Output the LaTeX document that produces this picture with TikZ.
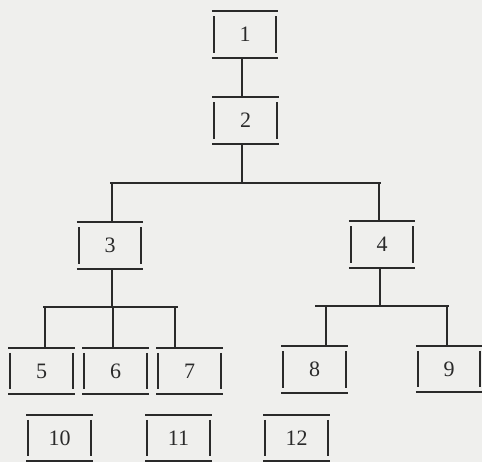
\documentclass[tikz,border=0pt]{standalone}
\usepackage{fontspec}
\setmainfont{Liberation Serif}
\definecolor{bg}{HTML}{EFEFED}
\definecolor{ink}{HTML}{2A2A2A}
\tikzset{
  tb/.style={minimum width=66pt, minimum height=46pt, inner sep=0pt, text=ink,
    font=\fontsize{22}{22}\selectfont},
  ln/.style={draw=ink, line width=1.7pt},
}
\newcommand\tbx[4]{%
  \node[tb] (#1) at (#2,#3) {#4};
  \draw[ln] (#1.north west) -- (#1.north east)
            (#1.south west) -- (#1.south east)
            ([shift={(2,5)}]#1.north west) -- ([shift={(2,-5)}]#1.south west)
            ([shift={(-2,5)}]#1.north east) -- ([shift={(-2,-5)}]#1.south east);
}
\begin{document}
\begin{tikzpicture}[x=1pt,y=-1pt]
\fill[bg] (0,0) rectangle (482,462);
\useasboundingbox (0,0) rectangle (482,462);
\tbx{n1}{245}{34.5}{1}
\tbx{n2}{245.5}{120.5}{2}
\tbx{n3}{110}{245.5}{3}
\tbx{n4}{382}{244.5}{4}
\tbx{n5}{41.5}{371}{5}
\tbx{n6}{115.5}{371}{6}
\tbx{n7}{189.5}{371}{7}
\tbx{n8}{314.5}{369.5}{8}
\tbx{n9}{449}{369}{9}
\tbx{n10}{59.5}{438}{10}
\tbx{n11}{178.5}{438}{11}
\tbx{n12}{296.5}{438}{12}
% bus coordinates
\coordinate (j2) at (242,183);
\coordinate (busAL) at (110,183);
\coordinate (busAR) at (381,183);
\coordinate (j3) at (112,307);
\coordinate (busBL) at (43,307);
\coordinate (busBR) at (178,307);
\coordinate (j4) at (380,306);
\coordinate (busCL) at (315,306);
\coordinate (busCR) at (449,306);
% connectors
\draw[ln] (n1.south -| j2) -- (n2.north -| j2);
\draw[ln] (n2.south -| j2) -- (j2);
\draw[ln] (busAL) -- (busAR);
\draw[ln] (j2 -| 112,0) -- (n3.north -| 112,0);
\draw[ln] (j2 -| 379,0) -- (n4.north -| 379,0);
\draw[ln] (n3.south -| j3) -- (j3);
\draw[ln] (busBL) -- (busBR);
\draw[ln] (j3 -| 45,0) -- (n5.north -| 45,0);
\draw[ln] (j3 -| 113,0) -- (n6.north -| 113,0);
\draw[ln] (j3 -| 175,0) -- (n7.north -| 175,0);
\draw[ln] (n4.south -| j4) -- (j4);
\draw[ln] (busCL) -- (busCR);
\draw[ln] (j4 -| 326,0) -- (n8.north -| 326,0);
\draw[ln] (j4 -| 447,0) -- (n9.north -| 447,0);
\end{tikzpicture}
\end{document}
